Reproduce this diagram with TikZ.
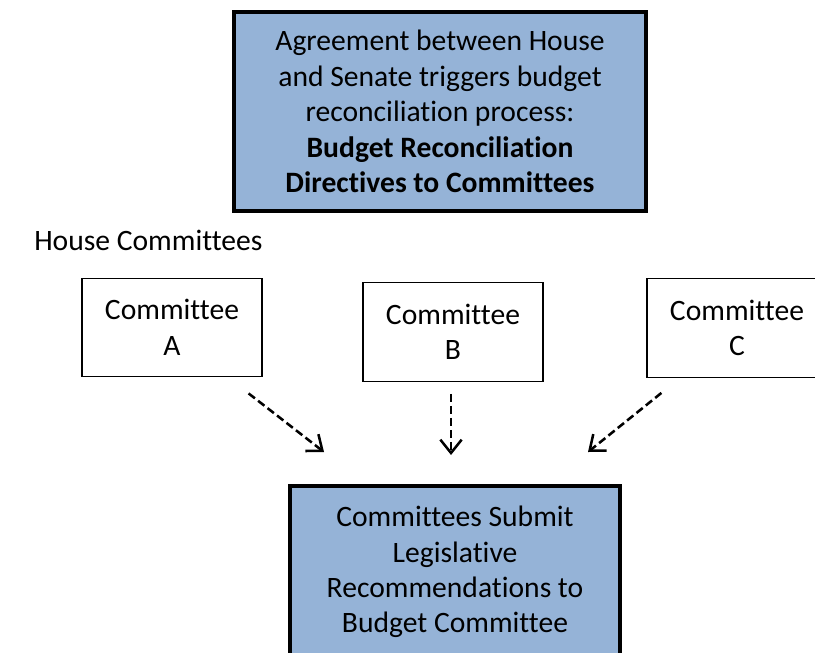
\documentclass[tikz,border=0pt]{standalone}
\usepackage{fontspec}
\setmainfont{Carlito}[Ligatures=NoCommon]
\usetikzlibrary{arrows.meta}
\definecolor{boxblue}{RGB}{149,179,215}

\begin{document}
\begin{tikzpicture}[
		x=0.75pt, y=-0.75pt,
		bigbox/.style={draw, rectangle, fill=boxblue, line width=3pt, inner sep=0pt, align=center, font=\fontsize{22.2}{26.6}\selectfont},
		combox/.style={draw, rectangle, line width=0.9pt, inner sep=0pt, minimum width=135pt, minimum height=74pt, align=center, font=\fontsize{22.2}{26.6}\selectfont},
		arrow/.style={draw, line width=1.9pt, dash pattern=on 6pt off 3pt, -{Straight Barb[length=10pt, width=16pt, line width=1.9pt]}}
	]
	\useasboundingbox (0, 0) rectangle (815, 653);

	% top
	\node[bigbox, minimum width=309pt, minimum height=149pt] (agree) at (440, 111.5) {Agreement between House\\and Senate triggers budget\\reconciliation process:\\\textbf{Budget Reconciliation}\\\textbf{Directives to Committees}};

	\node[anchor=west, inner sep=0pt, font=\fontsize{22.2}{26.6}\selectfont] (house) at (34, 240) {House Committees};

	% committees
	\foreach \n/\x/\y in {A/172/327.5, B/453/332, C/737/328} {
		\node[combox] (com-\n) at (\x, \y) {Committee\\\n};
	}

	% bottom
	\node[bigbox, minimum width=247.5pt, minimum height=129pt] (submit) at (455, 572) {Committees Submit\\Legislative\\Recommendations to\\Budget Committee};

	\draw[arrow] ([shift={(-14, 16)}]com-A.south east) -- ([shift={(36, -32)}]submit.north west);
	\draw[arrow] ([shift={(-2, 12)}]com-B.south) -- ([shift={(-4, -29)}]submit.north);
	\draw[arrow] ([shift={(15, 15)}]com-C.south west) -- ([shift={(-34, -32)}]submit.north east);

\end{tikzpicture}
\end{document}
